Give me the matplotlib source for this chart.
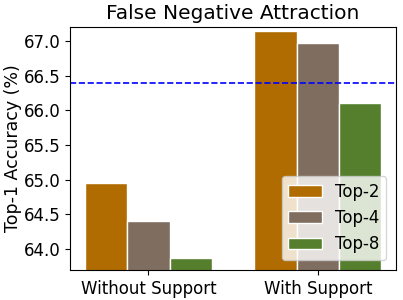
import numpy as np
import matplotlib.pyplot as plt

groups = ["Without Support", "With Support"]
series = ["Top-2", "Top-4", "Top-8"]
top2 = [64.96, 67.14]
top4 = [64.41, 66.97]
top8 = [63.88, 66.11]
baseline = 66.40

colors = ["#b06c00", "#7f6d5f", "#557f2d"]

fig, ax = plt.subplots(figsize=(4.03, 3.0), dpi=100)
x = np.arange(len(groups))
width = 0.25
for i, (vals, name) in enumerate(zip([top2, top4, top8], series)):
    ax.bar(x + (i - 1) * width, vals, width, color=colors[i], edgecolor="white", label=name)

ax.axhline(baseline, color="blue", linestyle="--", linewidth=1.2)
ax.set_ylim(63.7, 67.2)
ax.set_yticks([64.0, 64.5, 65.0, 65.5, 66.0, 66.5, 67.0])
ax.set_xticks(x)
ax.set_xticklabels(groups, fontsize=12)
ax.tick_params(axis="y", labelsize=12)
ax.set_ylabel("Top-1 Accuracy (%)", fontsize=12.5, labelpad=1)
ax.set_title("False Negative Attraction", fontsize=14.5)
ax.legend(loc="lower right", fontsize=12, borderaxespad=0.6)

fig.subplots_adjust(left=0.174, right=0.983, top=0.91, bottom=0.1)
fig.savefig("out.png")
